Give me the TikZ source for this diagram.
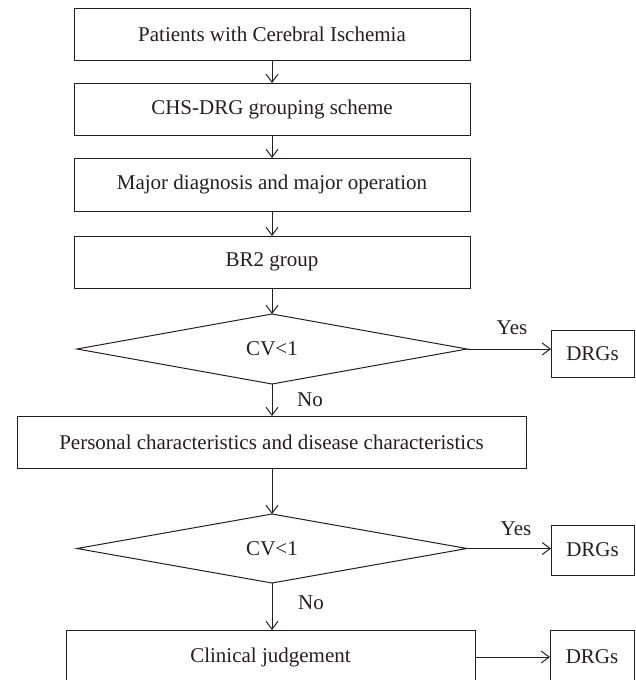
\documentclass[tikz,border=0pt]{standalone}
\usepackage{fontspec}
\setmainfont{Liberation Serif}
\usetikzlibrary{shapes.geometric,arrows.meta}
\definecolor{ink}{HTML}{231F20}
\begin{document}
\begin{tikzpicture}[x=1pt,y=-1pt,
  every node/.style={text=ink,font=\fontsize{21}{24}\selectfont},
  box/.style={draw=ink,line width=1pt,rectangle,inner sep=0pt,outer sep=0pt},
  dec/.style={draw=ink,line width=1pt,diamond,aspect=5.6,inner sep=0pt,outer sep=0pt,minimum width=390pt,minimum height=70pt},
  lab/.style={inner sep=0pt},
  arr/.style={draw=ink,line width=1pt,-{Straight Barb[length=8pt,width=12pt]}}]
\useasboundingbox (0,0) rectangle (635,680);
\node[box,minimum width=396pt,minimum height=52pt] (b1) at (272,34) {Patients with Cerebral Ischemia};
\node[box,minimum width=396pt,minimum height=52pt] (b2) at (272,109) {CHS-DRG grouping scheme};
\node[box,minimum width=396pt,minimum height=53pt] (b3) at (272,184.5) {Major diagnosis and major operation};
\node[box,minimum width=396pt,minimum height=52pt] (b4) at (272,262) {BR2 group};
\node[dec] (d1) at (272,349) {CV<1};
\node[box,minimum width=83pt,minimum height=47pt] (g1) at (592.5,353.5) {DRGs};
\node[box,minimum width=509pt,minimum height=52pt] (b5) at (271.5,442) {Personal characteristics and disease characteristics};
\node[dec,minimum height=69pt] (d2) at (272,548.5) {CV<1};
\node[box,minimum width=83pt,minimum height=50pt] (g2) at (592.5,550) {DRGs};
\node[box,minimum width=409pt,minimum height=54pt] (b6) at (270.5,657) {Clinical judgement};
\node[box,minimum width=84pt,minimum height=54pt] (g3) at (592,657) {DRGs};
\draw[arr] (b1.south) -- (b2.north);
\draw[arr] (b2.south) -- (b3.north);
\draw[arr] (b3.south) -- (b4.north);
\draw[arr] (b4.south) -- (d1.north);
\draw[arr] (d1.east) -- (d1.east -| g1.west);
\draw[arr] (d1.south) -- (d1.south |- b5.north);
\draw[arr] (b5.south -| d2.north) -- (d2.north);
\draw[arr] (d2.east) -- (d2.east -| g2.west);
\draw[arr] (d2.south) -- (d2.south |- b6.north);
\draw[arr] (b6.east) -- (g3.west);
\node[lab] (y1) at (512,328) {Yes};
\node[lab] (n1) at (310,400) {No};
\node[lab] (y2) at (516,529) {Yes};
\node[lab] (n2) at (311,603) {No};
\end{tikzpicture}
\end{document}
